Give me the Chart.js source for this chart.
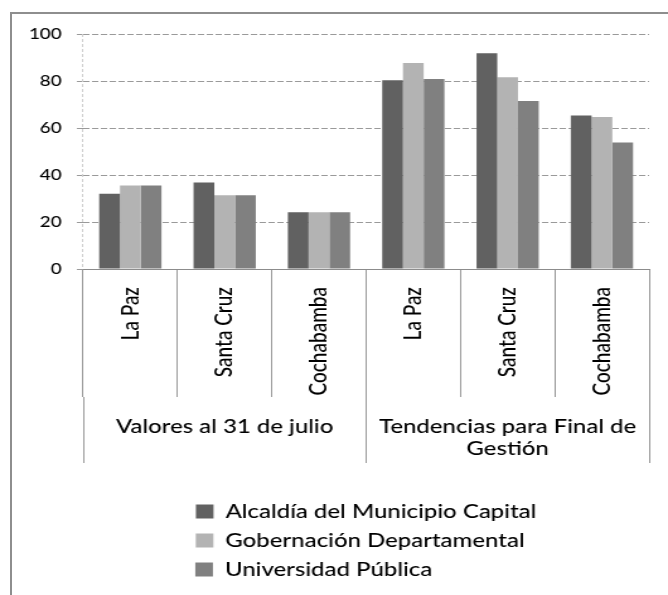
<!DOCTYPE html>
<html><head><meta charset="utf-8">
<script src="https://cdn.jsdelivr.net/npm/chart.js@4.4.1/dist/chart.umd.min.js"></script>
<style>
html,body{margin:0;padding:0;background:#fff;width:668px;height:595px;overflow:hidden;}
#frame{position:absolute;left:10px;top:12px;width:720px;height:640px;border-left:2px solid #8e8e8e;border-top:2px solid #8e8e8e;}
#c{position:absolute;left:0;top:0;transform-origin:0 0;transform:scaleX(1.26038);}
</style></head><body>
<div id="frame"></div>
<canvas id="c" width="530" height="595"></canvas>
<script>
const categories = ['La Paz','Santa Cruz','Cochabamba','La Paz','Santa Cruz','Cochabamba'];
const groups = ['Valores al 31 de julio', ['Tendencias para Final de','Gestión']];
const seriesNames = ['Alcaldía del Municipio Capital','Gobernación Departamental','Universidad Pública'];
const alcaldia    = [32.0, 36.8, 24.1, 80.3, 91.8, 65.3];
const gobernacion = [35.5, 31.4, 24.1, 87.7, 81.6, 64.7];
const universidad = [35.5, 31.4, 24.1, 80.9, 71.5, 53.8];
const yTicks = [0, 20, 40, 60, 80, 100];

const F = 'Lato';
const LBL = 19;
const W = 500;

new Chart(document.getElementById('c'), {
  type: 'bar',
  data: {
    labels: categories,
    datasets: [
      {label: seriesNames[0], data: alcaldia, backgroundColor: '#616161'},
      {label: seriesNames[1], data: gobernacion, backgroundColor: '#b3b3b3'},
      {label: seriesNames[2], data: universidad, backgroundColor: '#808080'}
    ]
  },
  options: {
    responsive: false,
    animation: false,
    devicePixelRatio: 1,
    layout: {padding: {left: 10, right: 15, top: 34, bottom: 6}},
    datasets: {bar: {categoryPercentage: 0.66, barPercentage: 1.0}},
    plugins: {
      tooltip: {enabled: false},
      legend: {
        position: 'bottom',
        fullSize: false,
        align: 'center',
        labels: {
          font: {family: F, size: LBL, weight: W},
          color: '#000',
          boxWidth: 14,
          boxHeight: 14,
          padding: 10,
          generateLabels(chart) {
            const items = Chart.defaults.plugins.legend.labels.generateLabels(chart);
            const ctx = chart.ctx;
            ctx.save();
            ctx.font = W + ' ' + LBL + 'px ' + F;
            const maxW = Math.max(...items.map(it => ctx.measureText(it.text).width));
            items.forEach(it => {
              let t = it.text;
              while (ctx.measureText(t + '\u2009').width <= maxW + 1) t += '\u2009';
              it.text = t;
            });
            ctx.restore();
            return items;
          }
        }
      }
    },
    scales: {
      y: {
        min: yTicks[0], max: yTicks[yTicks.length - 1],
        afterBuildTicks(s) { s.ticks = yTicks.map(v => ({value: v})); },
        ticks: {font: {family: F, size: 15, weight: W}, color: '#000', padding: 12},
        grid: {color: '#9a9a9a', tickLength: 5, tickColor: '#9a9a9a'},
        border: {display: false, dash: [5, 2]},
        afterFit(s) { s.width = 56; }
      },
      x: {
        offset: true,
        weight: 0,
        grid: {
          offset: true,
          drawOnChartArea: true,
          color: c => c.index === 0 ? '#cfcfcf' : 'rgba(0,0,0,0)',
          tickColor: '#999',
          tickLength: 128
        },
        border: {display: true, color: '#8c8c8c', width: 1, dash: [3, 2]},
        ticks: {font: {family: F, size: LBL, weight: W}, color: '#000', minRotation: 90, maxRotation: 90, autoSkip: false, padding: -110},
        afterFit(s) { s.height = 128; }
      },
      x2: {
        type: 'category',
        labels: groups,
        position: 'bottom',
        weight: 1,
        offset: true,
        grid: {offset: true, drawOnChartArea: false, tickLength: 66, color: '#999', tickColor: '#999'},
        border: {display: false},
        ticks: {font: {family: F, size: LBL, weight: W}, color: '#000', autoSkip: false, maxRotation: 0, minRotation: 0, padding: -48},
        afterFit(s) { s.height = 95; }
      }
    }
  }
});
</script>
</body></html>
